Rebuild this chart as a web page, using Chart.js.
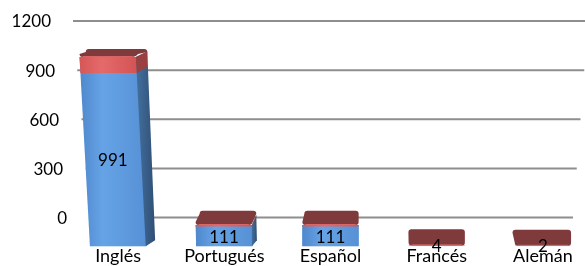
<!DOCTYPE html>
<html>
<head>
<meta charset="utf-8">
<script src="https://cdn.jsdelivr.net/npm/chart.js@4.4.1/dist/chart.umd.min.js"></script>
<style>
  html, body { margin: 0; padding: 0; background: #ffffff; overflow: hidden; }
  #wrap { width: 585px; height: 266px; overflow: hidden; position: relative; }
  canvas { display: block; }
</style>
</head>
<body>
<div id="wrap"><canvas id="c" width="600" height="266"></canvas></div>
<script>
// ---- data ----
const categories = ['Inglés', 'Portugués', 'Español', 'Francés', 'Alemán'];
const values = [991, 111, 111, 4, 2];
const yTicks = [0, 300, 600, 900, 1200];

const FONT = 'Lato';
const FS = 17;
const FSX = 18;

// 3D-look decoration (perspective faces derived from the bar elements' geometry)
const VX = 330; // vanishing x

const wallPlugin = {
  id: 'wall',
  beforeDatasetsDraw(chart) {
    const ctx = chart.ctx;
    const ys = chart.scales.y;
    ctx.save();
    yTicks.forEach(v => {
      const yy = ys.getPixelForValue(v);
      const f = v / 1200;
      const x1 = 90 - f * 17;
      const x2 = 573 + f * 15;
      ctx.strokeStyle = '#8e8e8e';
      ctx.lineWidth = 2;
      ctx.beginPath();
      ctx.moveTo(x1, yy);
      ctx.lineTo(x2, yy);
      ctx.stroke();
    });
    ctx.restore();
  },
  afterDraw(chart) {
    const ctx = chart.ctx;
    const ys = chart.scales.y;
    ctx.save();
    ctx.font = FS + 'px ' + FONT;
    ctx.fillStyle = '#000';
    ctx.textAlign = 'right';
    ctx.textBaseline = 'middle';
    yTicks.forEach(v => {
      const yy = ys.getPixelForValue(v);
      const f = v / 1200;
      ctx.fillText(String(v), 67 - f * 16, yy + 1);
    });
    ctx.restore();
  }
};

function depthFor(T) {
  return T < 222 ? 8 + (T - 55) * 0.036 : 14 + (T - 222) * 0.09;
}
function bandFor(T) {
  return Math.max(1.5, 16 - (T - 55) * 0.088);
}

const barPlugin = {
  id: 'bar3d',
  afterDatasetsDraw(chart) {
    const ctx = chart.ctx;
    const meta = chart.getDatasetMeta(0);
    ctx.save();
    meta.data.forEach((bar, i) => {
      const p = bar.getProps(['x', 'y', 'base', 'width'], true);
      const L = p.x - p.width / 2, R = p.x + p.width / 2;
      const T = p.y, B = p.base;
      const H = B - T;
      const d = depthFor(T);
      const band = bandFor(T);
      const sw = Math.max(0, (VX - p.x) * 0.042);
      const ln = (VX - p.x) * H * 0.00026; // lean of the top edge
      const swTop = sw > 0.8 ? Math.max(sw, ln + 1) : 0;
      const shift = (VX - p.x) * 0.02;
      const bw = p.width * 0.93;
      const TL = L - ln, TR = R - ln;

      if (H > 2) {
        // front face (leaning)
        const g = ctx.createLinearGradient(L - ln, 0, R, 0);
        g.addColorStop(0, '#4f88cc');
        g.addColorStop(0.35, '#66a3e6');
        g.addColorStop(1, '#5690d6');
        ctx.fillStyle = g;
        ctx.beginPath();
        ctx.moveTo(TL, T);
        ctx.lineTo(TR, T);
        ctx.lineTo(R, B);
        ctx.lineTo(L, B);
        ctx.closePath();
        ctx.fill();
        // side face (right)
        if (sw > 0.8) {
          const g2 = ctx.createLinearGradient(TR, 0, R + sw, 0);
          g2.addColorStop(0, '#44709f');
          g2.addColorStop(1, '#2f4f75');
          ctx.fillStyle = g2;
          ctx.beginPath();
          ctx.moveTo(TR, T);
          ctx.lineTo(TR + swTop, T - d * 0.7);
          ctx.lineTo(R + sw, B - 6);
          ctx.lineTo(R - 0.5, B);
          ctx.closePath();
          ctx.fill();
        }
        // red front band
        const bh = Math.min(band, H);
        const bl2 = ln * bh / H;
        const g3 = ctx.createLinearGradient(TL, 0, TR, 0);
        g3.addColorStop(0, '#d65656');
        g3.addColorStop(0.4, '#e46a6a');
        g3.addColorStop(1, '#d45454');
        ctx.fillStyle = g3;
        ctx.beginPath();
        ctx.moveTo(TL, T);
        ctx.lineTo(TR, T);
        ctx.lineTo(TR + bl2, T + bh);
        ctx.lineTo(TL + bl2, T + bh);
        ctx.closePath();
        ctx.fill();
        if (sw > 0.8) {
          ctx.fillStyle = '#9a4040';
          ctx.beginPath();
          ctx.moveTo(TR, T);
          ctx.lineTo(TR + swTop, T - d * 0.7);
          ctx.lineTo(TR + swTop, T - d * 0.7 + bh);
          ctx.lineTo(TR + bl2, T + bh);
          ctx.closePath();
          ctx.fill();
        }
      }
      // top face
      const cx = p.x - ln + shift;
      const bl = cx - bw / 2, br = Math.max(cx + bw / 2, TR + swTop);
      const r = 3;
      ctx.fillStyle = '#7f3b3c';
      ctx.beginPath();
      ctx.moveTo(TL + r, T);
      ctx.lineTo(TR - r, T);
      ctx.quadraticCurveTo(TR, T, TR + (br - TR) * 0.2, T - r);
      ctx.lineTo(br, T - d + r);
      ctx.quadraticCurveTo(br, T - d, br - r, T - d);
      ctx.lineTo(bl + r, T - d);
      ctx.quadraticCurveTo(bl, T - d, bl, T - d + r);
      ctx.lineTo(TL, T - r);
      ctx.quadraticCurveTo(TL, T, TL + r, T);
      ctx.closePath();
      ctx.fill();
      ctx.strokeStyle = 'rgba(230,110,110,0.9)';
      ctx.lineWidth = 1;
      ctx.beginPath();
      ctx.moveTo(TL + r, T - 0.5);
      ctx.lineTo(TR - r, T - 0.5);
      ctx.stroke();

      // value label
      ctx.font = FS + 'px ' + FONT;
      ctx.fillStyle = '#000';
      ctx.textAlign = 'center';
      ctx.textBaseline = 'middle';
      const ly = H > 2 ? (T + band + B) / 2 : (T + B) / 2;
      const lx = p.x - ln * 0.5;
      ctx.fillText(String(values[i]), lx, ly + 1);
    });
    ctx.restore();
  }
};

new Chart(document.getElementById('c'), {
  type: 'bar',
  data: {
    labels: categories,
    datasets: [{
      data: values,
      yAxisID: 'y2',
      backgroundColor: '#5b98dc',
      borderWidth: 0,
      barPercentage: 0.53,
      categoryPercentage: 1.0
    }]
  },
  options: {
    responsive: false,
    animation: false,
    layout: { padding: { left: 65, right: 4, top: 21, bottom: 0 } },
    plugins: {
      legend: { display: false },
      tooltip: { enabled: false }
    },
    scales: {
      x: {
        grid: { display: false, drawTicks: false },
        border: { display: false },
        ticks: {
          color: '#000',
          padding: 0,
          font: { family: FONT, size: FSX, lineHeight: 1.1 },
          maxRotation: 0,
          autoSkip: false
        }
      },
      y: {
        display: false,
        min: -175,
        max: 1200
      },
      y2: {
        display: false,
        min: 0,
        max: 1180
      }
    }
  },
  plugins: [wallPlugin, barPlugin]
});
</script>
</body>
</html>
